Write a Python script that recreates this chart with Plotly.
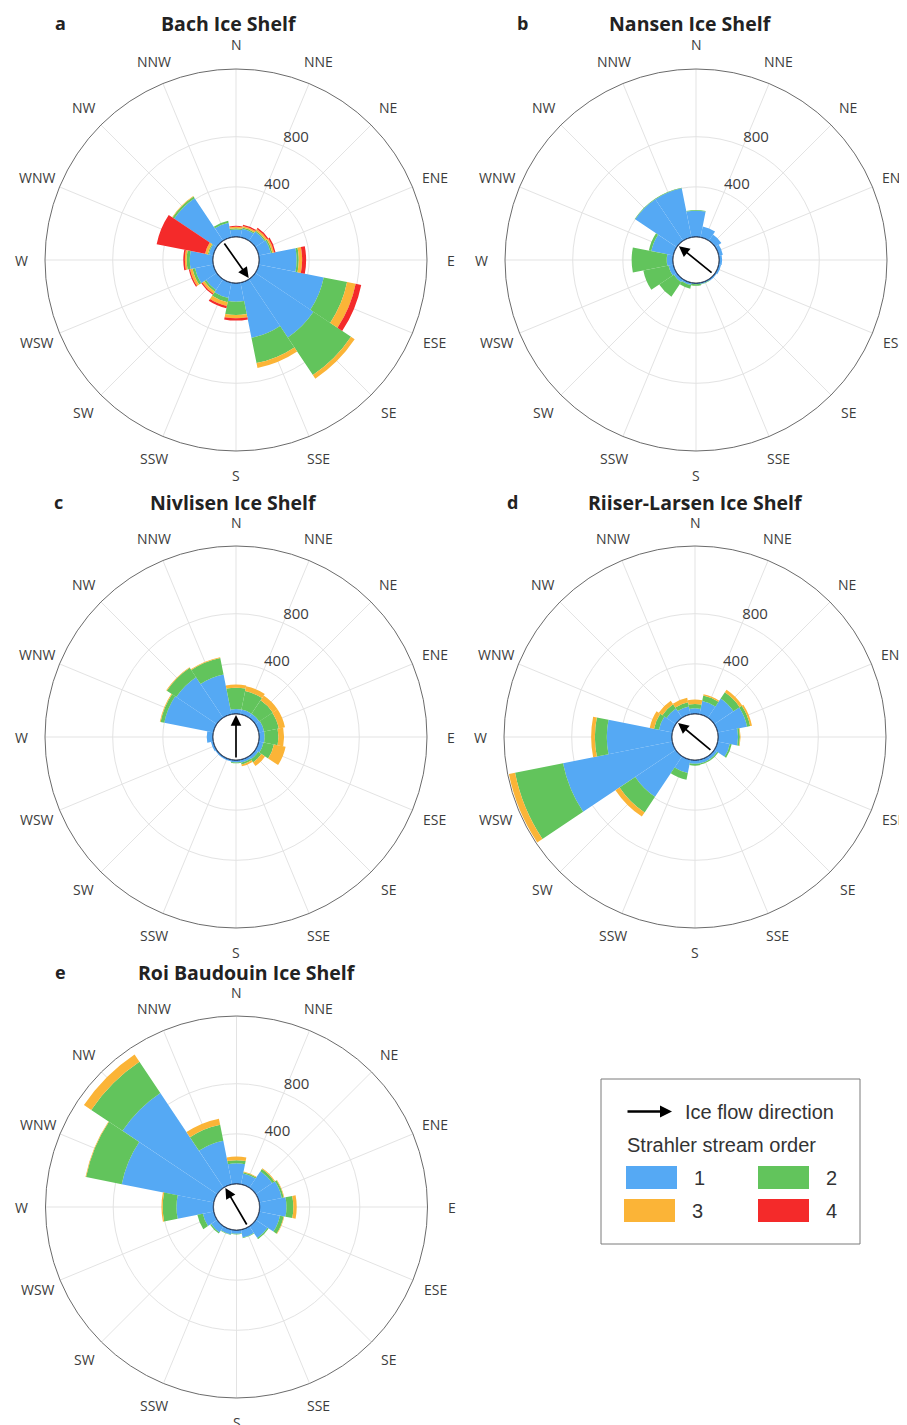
import numpy as np
import plotly.graph_objects as go

# ---------------- data ----------------
DIRS = ['N', 'NNE', 'NE', 'ENE', 'E', 'ESE', 'SE', 'SSE',
        'S', 'SSW', 'SW', 'WSW', 'W', 'WNW', 'NW', 'NNW']
THETA = [0, 22.5, 45, 67.5, 90, 112.5, 135, 157.5,
         180, 202.5, 225, 247.5, 270, 292.5, 315, 337.5]
ORDERS = ['1', '2', '3', '4']
COLORS = ['#55a9f4', '#62c45c', '#fbb437', '#f42a2a']
RTICKS = [400, 800]

# Strahler order 1..4 counts per direction sector (N .. NNW)
BACH_O1 = [60, 70, 90, 100, 300, 530, 560, 450, 150, 125, 105, 150, 185, 38, 410, 120]
BACH_O2 = [10, 10, 10, 12, 17, 190, 360, 205, 105, 35, 15, 20, 25, 8, 15, 15]
BACH_O3 = [12, 14, 15, 14, 27, 70, 35, 40, 27, 30, 20, 20, 14, 22, 5, 0]
BACH_O4 = [8, 10, 12, 12, 32, 45, 0, 0, 18, 18, 10, 10, 13, 394, 0, 0]

NANSEN_O1 = [210, 90, 60, 35, 25, 20, 15, 12, 10, 20, 30, 40, 50, 180, 400, 400]
NANSEN_O2 = [5, 0, 0, 0, 0, 0, 0, 3, 12, 30, 140, 205, 280, 20, 5, 5]
NANSEN_O3 = [0] * 16
NANSEN_O4 = [0] * 16

NIVLISEN_O1 = [40, 40, 40, 45, 45, 40, 30, 25, 20, 15, 15, 20, 50, 400, 390, 325]
NIVLISEN_O2 = [170, 150, 130, 120, 110, 85, 30, 15, 5, 0, 0, 0, 0, 30, 90, 135]
NIVLISEN_O3 = [25, 40, 45, 50, 45, 95, 35, 15, 0, 0, 0, 0, 0, 6, 6, 6]
NIVLISEN_O4 = [0] * 16

RIISER_O1 = [45, 110, 185, 240, 160, 100, 30, 30, 30, 110, 390, 890, 520, 110, 90, 65]
RIISER_O2 = [35, 45, 60, 25, 15, 15, 10, 10, 15, 55, 150, 390, 95, 40, 40, 35]
RIISER_O3 = [35, 10, 25, 15, 5, 0, 0, 0, 0, 0, 40, 50, 30, 35, 35, 35]
RIISER_O4 = [0] * 16

ROI_O1 = [165, 90, 160, 185, 215, 170, 115, 65, 30, 40, 60, 90, 295, 750, 910, 355]
ROI_O2 = [25, 10, 20, 15, 55, 30, 10, 5, 5, 5, 10, 45, 110, 290, 300, 130]
ROI_O3 = [30, 5, 8, 5, 27, 5, 0, 0, 0, 0, 0, 0, 10, 5, 70, 50]
ROI_O4 = [0] * 16

SHELVES = ['Bach Ice Shelf', 'Nansen Ice Shelf', 'Nivlisen Ice Shelf',
           'Riiser-Larsen Ice Shelf', 'Roi Baudouin Ice Shelf']
LETTERS = ['a', 'b', 'c', 'd', 'e']
FLOW_DIR = [144.7, 309.0, 0.0, 309.6, 329.7]   # ice flow direction (deg from N)

# ---------------- layout constants ----------------
PAGE_OFF = 8            # default body margin of the html page
W, H = 907 - PAGE_OFF, 1425 - PAGE_OFF
R_PX = 191
HOLE_PX = 23
RMAX = 1340
LABEL_PX = 215
CENTERS = [(236, 260), (696, 260), (236, 737), (695, 737), (236.5, 1207)]
LETTER_POS = [(60, 23), (522, 23), (58, 502), (512, 502), (60, 972)]
TITLE_POS = [(229, 23), (690, 23), (233, 502), (695, 502), (247, 972)]

DATA = [
    [BACH_O1, BACH_O2, BACH_O3, BACH_O4],
    [NANSEN_O1, NANSEN_O2, NANSEN_O3, NANSEN_O4],
    [NIVLISEN_O1, NIVLISEN_O2, NIVLISEN_O3, NIVLISEN_O4],
    [RIISER_O1, RIISER_O2, RIISER_O3, RIISER_O4],
    [ROI_O1, ROI_O2, ROI_O3, ROI_O4],
]


def px(x, y):
    """screen pixel (page coords) -> paper coords"""
    return (x - PAGE_OFF) / W, 1 - (y - PAGE_OFF) / H


fig = go.Figure()
layout = dict(width=W, height=H, margin=dict(l=0, r=0, t=0, b=0, pad=0),
              paper_bgcolor='white', plot_bgcolor='white', showlegend=False)
annotations = []
shapes = []

ring_theta = np.linspace(0, 360, 241)
LAB_FONT = dict(family='Open Sans', size=14, color='#3c3c3c')

for i, (cx, cy) in enumerate(CENTERS):
    sub = 'polar' if i == 0 else f'polar{i + 1}'
    for k in range(4):
        fig.add_trace(go.Barpolar(
            r=DATA[i][k], theta=THETA, width=22.5, name=ORDERS[k],
            marker=dict(color=COLORS[k], line=dict(width=0)),
            subplot=sub, showlegend=False, hoverinfo='skip'))
    # hole outline
    fig.add_trace(go.Scatterpolar(
        r=[0] * len(ring_theta), theta=ring_theta, mode='lines',
        line=dict(color='#23314f', width=1.4), subplot=sub,
        hoverinfo='skip', showlegend=False))
    # radial tick labels
    fig.add_trace(go.Scatterpolar(
        r=RTICKS, theta=[22.5] * len(RTICKS), mode='text',
        text=[str(t) for t in RTICKS], textposition='top right',
        textfont=dict(family='Open Sans', size=15, color='#3c3c3c'),
        cliponaxis=False, subplot=sub, hoverinfo='skip', showlegend=False))

    x0, y1 = px(cx - R_PX, cy - R_PX)
    x1, y0 = px(cx + R_PX, cy + R_PX)
    layout[sub] = dict(
        domain=dict(x=[x0, x1], y=[y0, y1]),
        hole=HOLE_PX / R_PX,
        bgcolor='white',
        barmode='stack',
        radialaxis=dict(range=[0, RMAX], tickvals=RTICKS, showticklabels=False,
                        ticks='', showline=False, gridcolor='#e3e3e3',
                        gridwidth=1, layer='below traces'),
        angularaxis=dict(rotation=90, direction='clockwise', tickvals=THETA,
                         showticklabels=False, ticks='', showline=True,
                         linecolor='#6b6b6b', linewidth=1,
                         gridcolor='#e3e3e3', gridwidth=1, layer='below traces'),
    )

    # compass labels, centred on a fixed radius like the reference
    for d, th in zip(DIRS, THETA):
        t = np.deg2rad(th)
        lx, ly = px(cx + LABEL_PX * np.sin(t), cy - LABEL_PX * np.cos(t))
        annotations.append(dict(x=lx, y=ly, xref='paper', yref='paper',
                                text=d, showarrow=False, xanchor='center',
                                yanchor='middle', font=LAB_FONT))

    # ice flow arrow inside the hole
    t = np.deg2rad(FLOW_DIR[i])
    rr = HOLE_PX - 1
    hxp, hyp = px(cx + rr * np.sin(t), cy - rr * np.cos(t))
    annotations.append(dict(
        x=hxp, y=hyp, xref='paper', yref='paper', text='', showarrow=True,
        ax=-2 * rr * np.sin(t), ay=2 * rr * np.cos(t),
        arrowhead=2, arrowsize=1.25, arrowwidth=1.7, arrowcolor='black',
        standoff=0, startstandoff=0))

    lx, ly = px(*LETTER_POS[i])
    annotations.append(dict(x=lx, y=ly, xref='paper', yref='paper',
                            text=f'<b>{LETTERS[i]}</b>', showarrow=False,
                            xanchor='center', yanchor='middle',
                            font=dict(family='Open Sans', size=18, color='#222')))
    tx, ty = px(*TITLE_POS[i])
    annotations.append(dict(x=tx, y=ty, xref='paper', yref='paper',
                            text=f'<b>{SHELVES[i]}</b>', showarrow=False,
                            xanchor='center', yanchor='middle',
                            font=dict(family='Open Sans', size=19.5, color='#222')))

# ---------------- custom legend box ----------------
LEG_FONT = dict(family='Liberation Sans', size=20, color='#333333')
bx0, by0 = px(601, 1079)
bx1, by1 = px(860, 1244)
shapes.append(dict(type='rect', xref='paper', yref='paper', x0=bx0, x1=bx1,
                   y0=by1, y1=by0, line=dict(color='#7a7a7a', width=1),
                   fillcolor='white'))
ahx, ahy = px(672, 1111.5)
annotations.append(dict(x=ahx, y=ahy, xref='paper', yref='paper', text='',
                        showarrow=True, ax=-46, ay=0, arrowhead=2,
                        arrowsize=1.0, arrowwidth=2.4, arrowcolor='black',
                        standoff=0))
ix, iy = px(683, 1111.5)
annotations.append(dict(x=ix, y=iy, xref='paper', yref='paper',
                        text='Ice flow direction', showarrow=False,
                        xanchor='left', yanchor='middle', font=LEG_FONT))
sx, sy = px(625, 1145)
annotations.append(dict(x=sx, y=sy, xref='paper', yref='paper',
                        text='Strahler stream order', showarrow=False,
                        xanchor='left', yanchor='middle', font=LEG_FONT))
SW_POS = [(626, 1166), (758, 1166), (624, 1199), (758, 1199)]
for k in range(4):
    x0s, y0s = SW_POS[k]
    a0, b0 = px(x0s, y0s)
    a1, b1 = px(x0s + 51, y0s + 23)
    shapes.append(dict(type='rect', xref='paper', yref='paper', x0=a0, x1=a1,
                       y0=b1, y1=b0, line=dict(width=0), fillcolor=COLORS[k]))
    nx, ny = px(x0s + 73, y0s + 11.5)
    annotations.append(dict(x=nx, y=ny, xref='paper', yref='paper',
                            text=ORDERS[k], showarrow=False, xanchor='center',
                            yanchor='middle', font=LEG_FONT))

layout['annotations'] = annotations
layout['shapes'] = shapes
fig.update_layout(**layout)
fig.write_html('out.html')
